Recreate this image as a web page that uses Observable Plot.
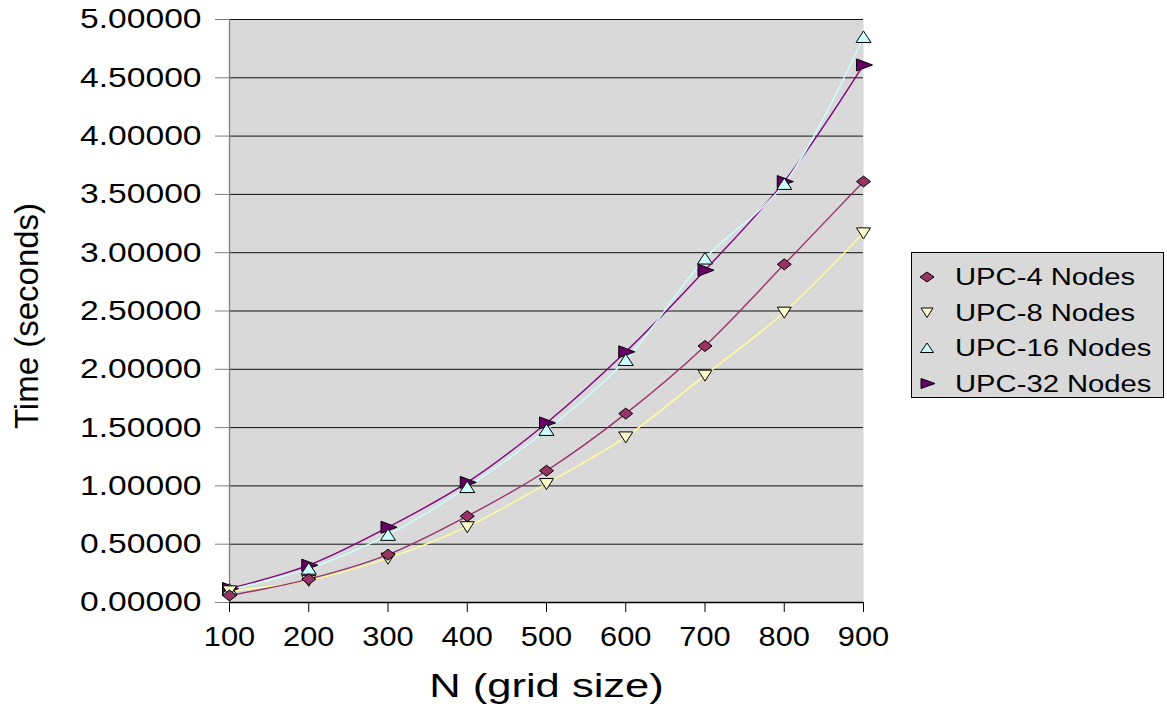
<!DOCTYPE html>
<html>
<head>
<meta charset="utf-8">
<script src="https://cdn.jsdelivr.net/npm/d3@7"></script>
<script src="https://cdn.jsdelivr.net/npm/@observablehq/plot@0.6"></script>
<style>
  body { margin: 0; background: #fff; }
  #wrap { position: relative; width: 1167px; height: 706px; font-family: "Liberation Sans", Arial, sans-serif; }
  #legend { position: absolute; left: 911px; top: 252px; }
</style>
</head>
<body>
<div id="wrap"></div>
<script>
// ---- data ----
const gridSizes = [100, 200, 300, 400, 500, 600, 700, 800, 900];
const upc4  = [0.06, 0.20, 0.41, 0.74, 1.13, 1.62, 2.20, 2.90, 3.61];
const upc8  = [0.10, 0.19, 0.38, 0.65, 1.02, 1.42, 1.95, 2.49, 3.17];
const upc16 = [0.11, 0.29, 0.58, 0.99, 1.48, 2.08, 2.95, 3.59, 4.85];
const upc32 = [0.12, 0.32, 0.645, 1.03, 1.54, 2.15, 2.85, 3.61, 4.61];
const seriesNames = ["UPC-4 Nodes", "UPC-8 Nodes", "UPC-16 Nodes", "UPC-32 Nodes"];
const yTicks = [0, 0.5, 1, 1.5, 2, 2.5, 3, 3.5, 4, 4.5, 5];

// ---- styles ----
const lineColors = ["#993366", "#ffff99", "#ccffff", "#800080"];
const fillColors = ["#993366", "#ffffcc", "#ccffff", "#660066"];
const shape = (pts) => ({ draw(ctx) { ctx.moveTo(pts[0][0], pts[0][1]); for (let i = 1; i < pts.length; i++) ctx.lineTo(pts[i][0], pts[i][1]); ctx.closePath(); } });
const symbols = [
  shape([[0, -5.5], [7, 0], [0, 5.5], [-7, 0]]),
  shape([[-7, -5], [7, -5], [0, 6]]),
  shape([[-7.5, 5.5], [7.5, 5.5], [0, -6]]),
  shape([[-7, -6], [9, 0], [-7, 6]])
];

const allSeries = [upc4, upc8, upc16, upc32];
const tables = allSeries.map((vals, s) => gridSizes.map((n, i) => ({ n, t: vals[i], s })));
const drawOrder = [3, 2, 1, 0];

const marks = [
  Plot.frame({ fill: "#d9d9d9", stroke: null }),
  Plot.gridY(yTicks, { stroke: "#111", strokeOpacity: 1, strokeWidth: 1 }),
  Plot.ruleX([100], { stroke: "#808080", strokeWidth: 1.3 }),
  Plot.axisY({ ticks: yTicks, tickSize: 14, tickPadding: 14, fontSize: 28, stroke: "#808080", color: "#000", tickFormat: d3.format(".5f"), label: null }),
  Plot.axisX({ ticks: gridSizes, tickSize: 10, tickPadding: 14, fontSize: 27, stroke: "#000", tickFormat: d => String(d), label: null }),
  Plot.ruleY([0], { stroke: "#000", strokeWidth: 1.3 }),
  Plot.text(["N (grid size)"], { frameAnchor: "bottom", lineAnchor: "bottom", dy: 94, fontSize: 34, fill: "#000" }),
  Plot.text(["Time (seconds)"], { frameAnchor: "left", textAnchor: "middle", lineAnchor: "bottom", rotate: -90, dx: -192, dy: 5, fontSize: 33, fill: "#000" })
];
for (const s of drawOrder) {
  marks.push(Plot.line(tables[s], { x: "n", y: "t", stroke: lineColors[s], strokeWidth: 1.4, curve: "catmull-rom" }));
}
for (const s of drawOrder) {
  marks.push(Plot.dot(tables[s], { x: "n", y: "t", symbol: symbols[s], fill: fillColors[s], stroke: "#000", strokeWidth: 1 }));
}

const chart = Plot.plot({
  width: 1167, height: 706,
  marginLeft: 229, marginRight: 304, marginTop: 19, marginBottom: 104,
  style: { fontFamily: "'Liberation Sans', Arial, sans-serif", background: "#fff", overflow: "visible" },
  x: { domain: [100, 900] },
  y: { domain: [0, 5] },
  marks
});

const wrap = document.getElementById("wrap");
wrap.appendChild(chart);

// horizontally widen text to match the reference's stretched lettering
const stretch = { "y-axis tick label": 1.2, "x-axis tick label": 1.14 };
chart.querySelectorAll("g[aria-label]").forEach(g => {
  const f = stretch[g.getAttribute("aria-label")];
  if (!f) return;
  g.querySelectorAll("text").forEach(t => {
    const w = t.getComputedTextLength();
    t.setAttribute("textLength", w * f);
    t.setAttribute("lengthAdjust", "spacingAndGlyphs");
  });
});
chart.querySelectorAll("g[aria-label='text'] text").forEach(t => {
  if (t.textContent === "N (grid size)") {
    const w = t.getComputedTextLength();
    t.setAttribute("textLength", w * 1.28);
    t.setAttribute("lengthAdjust", "spacingAndGlyphs");
  }
});

// ---- legend ----
const lg = d3.select(wrap).append("svg").attr("id", "legend").attr("width", 254).attr("height", 147);
lg.append("rect").attr("x", 0.5).attr("y", 0.5).attr("width", 252).attr("height", 145).attr("fill", "#d9d9d9").attr("stroke", "#000");
const legendSymbols = [
  [[0, -5], [7, 0], [0, 5], [-7, 0]],
  [[-6, -4.5], [6, -4.5], [0, 5]],
  [[-6.5, 4.5], [6.5, 4.5], [0, -5]],
  [[-6, -5], [8, 0], [-6, 5]]
];
seriesNames.forEach((name, i) => {
  const cy = 25 + i * 35.5;
  lg.append("path")
    .attr("d", "M" + legendSymbols[i].map(p => p.join(",")).join("L") + "Z")
    .attr("transform", `translate(16,${cy})`)
    .attr("fill", fillColors[i]).attr("stroke", "#000").attr("stroke-width", 1);
  const t = lg.append("text").attr("x", 44).attr("y", cy + 8)
    .attr("font-family", "'Liberation Sans', Arial, sans-serif").attr("font-size", 23).attr("fill", "#000")
    .text(name);
  const w = t.node().getComputedTextLength();
  t.attr("textLength", w * 1.27).attr("lengthAdjust", "spacingAndGlyphs");
});
</script>
</body>
</html>
